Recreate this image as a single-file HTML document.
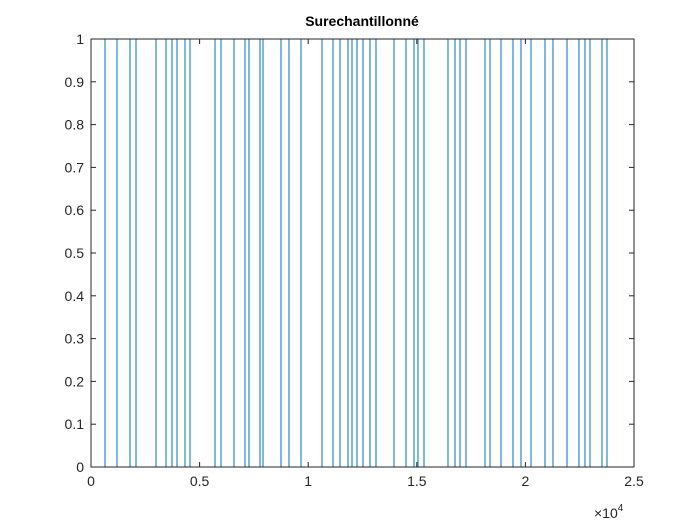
<!DOCTYPE html>
<html><head><meta charset="utf-8"><style>
html,body{margin:0;padding:0;background:#fff;}
svg{display:block;font-family:"Liberation Sans",Arial,sans-serif;}
</style></head><body>
<svg id="chart" width="700" height="525" viewBox="0 0 700 525">
<rect x="0" y="0" width="700" height="525" fill="#fff"/>
<g id="plot"></g>
<text x="362" y="26" text-anchor="middle" font-size="14" font-weight="bold" fill="#000">Surechantillonné</text>
</svg>
<script>
const transitions = [645,1197,1796,2072,2993,3453,3729,3960,4328,4558,5709,5985,6584,7090,7274,7781,7919,8748,9116,9668,10635,11142,11464,11832,12017,12247,12523,12845,13121,13950,14503,14871,15055,15331,16436,16759,16989,17265,18140,18370,18876,19429,19797,20258,20902,21270,21915,22467,22744,22974,23526,23756];
const signalEnd = 24585;
const xTicks = [0,5000,10000,15000,20000,25000];
const xTickLabels = ["0","0.5","1","1.5","2","2.5"];
const yTicks = [0,0.1,0.2,0.3,0.4,0.5,0.6,0.7,0.8,0.9,1];
const yTickLabels = ["0","0.1","0.2","0.3","0.4","0.5","0.6","0.7","0.8","0.9","1"];

const L=91,R=634,T=39,B=467;
const sx=v=>L+(v/25000)*(R-L);
const sy=v=>B-v*(B-T);
const NS="http://www.w3.org/2000/svg";
const g=document.getElementById('plot');
function mk(tag,attrs){const e=document.createElementNS(NS,tag);for(const k in attrs)e.setAttribute(k,attrs[k]);g.appendChild(e);return e;}

// signal line
let d="M"+sx(0)+","+sy(0);
let level=0;
transitions.forEach(t=>{d+=" L"+sx(t)+","+sy(level);level=1-level;d+=" L"+sx(t)+","+sy(level);});
d+=" L"+sx(signalEnd)+","+sy(level);
const line=mk('path',{d:d,fill:'none',stroke:'#0072BD','stroke-width':1});



// axes box
const box=mk('rect',{x:L,y:T,width:R-L,height:B-T,fill:'none',stroke:'#262626','stroke-width':1});



xTicks.forEach((v,i)=>{
  const x=sx(v);
  const t1=mk('line',{x1:x,y1:B,x2:x,y2:B-5,stroke:'#262626'});
  
  
  const t2=mk('line',{x1:x,y1:T,x2:x,y2:T+5,stroke:'#262626'});
  
  
  const lb=mk('text',{x:x,y:B+19,'text-anchor':'middle','font-size':14,fill:'#262626'});
  lb.textContent=xTickLabels[i];
  
  
});
yTicks.forEach((v,i)=>{
  const y=sy(v);
  const t1=mk('line',{x1:L,y1:y,x2:L+5,y2:y,stroke:'#262626'});
  
  
  const t2=mk('line',{x1:R,y1:y,x2:R-5,y2:y,stroke:'#262626'});
  
  
  const lb=mk('text',{x:L-7,y:y+5,'text-anchor':'end','font-size':14,fill:'#262626'});
  lb.textContent=yTickLabels[i];
  
  
});
const ex=mk('text',{x:594,y:518,'font-size':14,fill:'#262626'});
ex.innerHTML='×10<tspan dy="-7" font-size="10">4</tspan>';


</script>
</body></html>
